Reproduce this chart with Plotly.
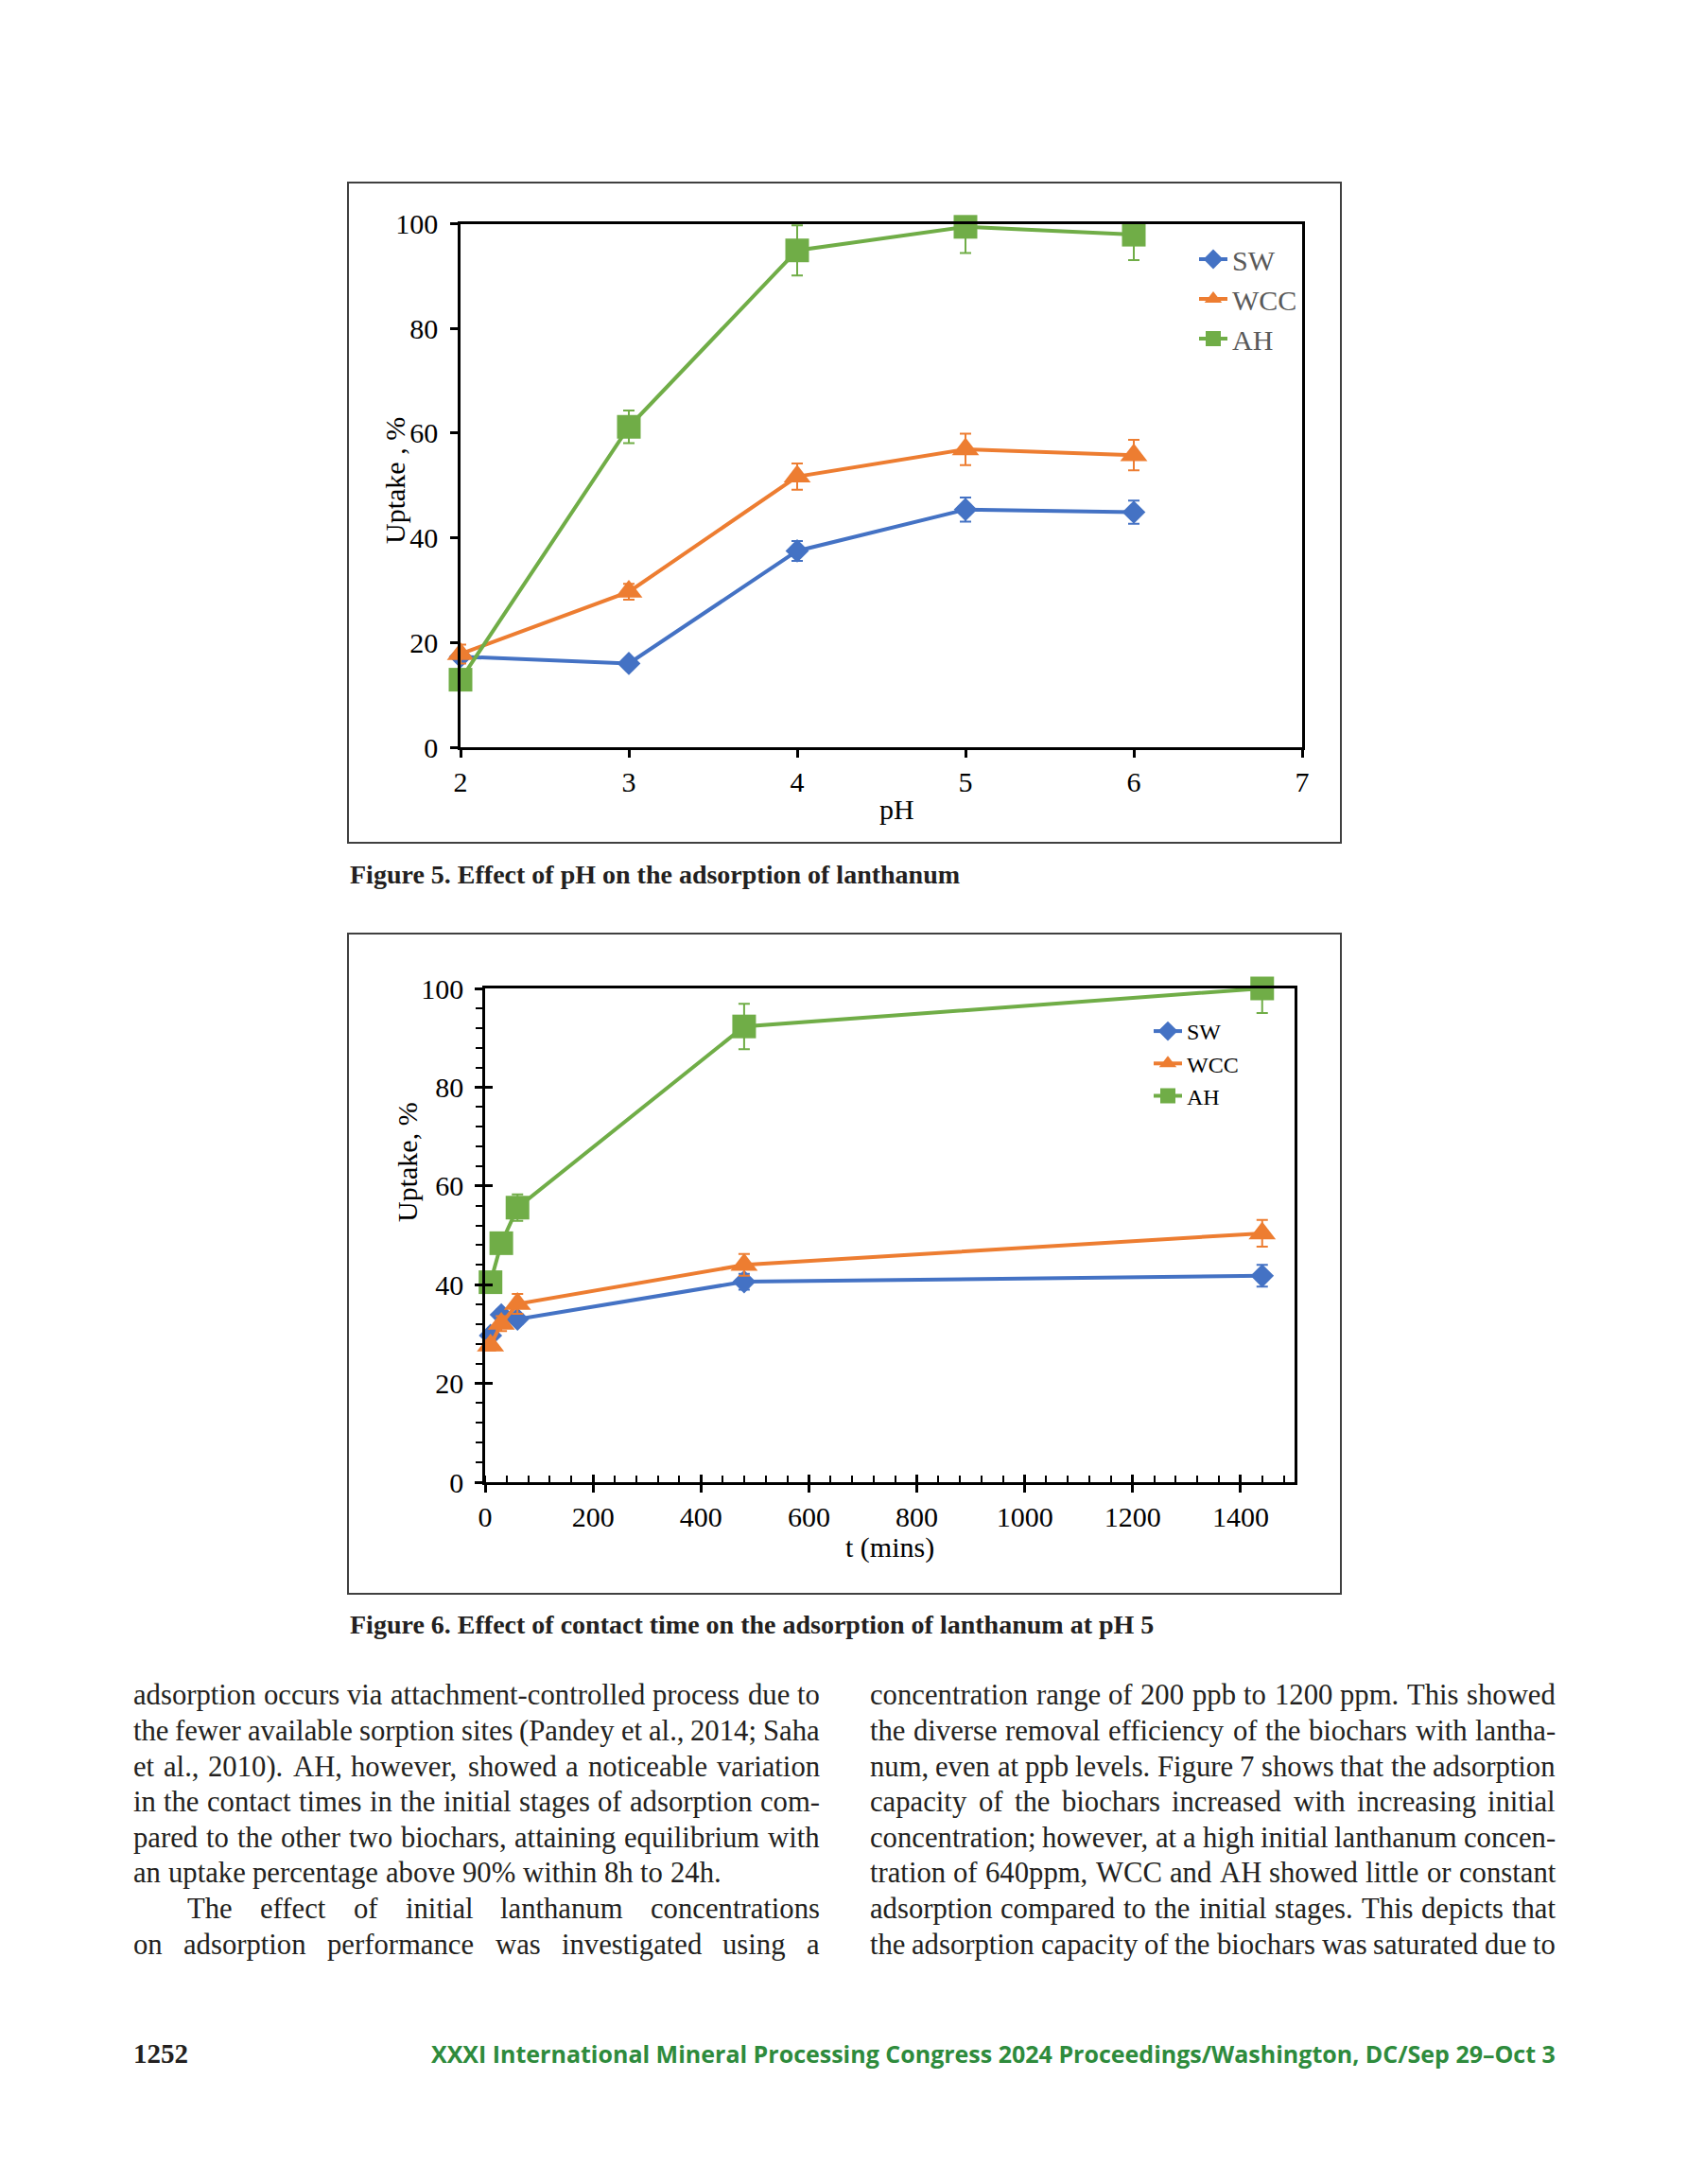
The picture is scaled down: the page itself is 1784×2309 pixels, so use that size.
import plotly.graph_objects as go

W, H = 1784, 2309

# ---------------- Data ----------------
# Figure 5: effect of pH
ph = [2, 3, 4, 5, 6]
ph_sw = [17.3, 16.0, 37.5, 45.4, 44.9]
ph_sw_err = [0.6, 0.6, 1.9, 2.3, 2.2]
ph_wcc = [17.8, 29.7, 51.7, 56.9, 55.8]
ph_wcc_err = [1.8, 1.5, 2.5, 3.0, 2.9]
ph_ah = [12.9, 61.2, 94.9, 99.4, 97.9]
ph_ah_err = [1.0, 3.1, 4.8, 5.0, 4.85]
ph_ticks = [2, 3, 4, 5, 6, 7]

# Figure 6: effect of contact time
t_min = [10, 30, 60, 480, 1440]
t_sw = [29.7, 33.9, 33.0, 40.6, 41.8]
t_sw_err = [1.0, 1.0, 1.0, 1.6, 2.2]
t_wcc = [27.7, 32.1, 36.1, 44.0, 50.4]
t_wcc_err = [1.0, 1.5, 2.0, 2.2, 2.7]
t_ah = [40.5, 48.4, 55.6, 92.3, 100.0]
t_ah_err = [1.5, 2.0, 2.7, 4.6, 5.0]
t_ticks = [0, 200, 400, 600, 800, 1000, 1200, 1400]

series_names = ["SW", "WCC", "AH"]
colors = ["#4472C4", "#ED7D31", "#70AD47"]
symbols = ["diamond", "triangle-up", "square"]
marker_sizes = [19, 25, 25]

caption5 = "Figure 5. Effect of pH on the adsorption of lanthanum"
caption6 = "Figure 6. Effect of contact time on the adsorption of lanthanum at pH 5"

left_lines = [
    "adsorption occurs via attachment-controlled process due to",
    "the fewer available sorption sites (Pandey et al., 2014; Saha",
    "et al., 2010). AH, however, showed a noticeable variation",
    "in the contact times in the initial stages of adsorption com-",
    "pared to the other two biochars, attaining equilibrium with",
    "an uptake percentage above 90% within 8h to 24h.",
    "The effect of initial lanthanum concentrations",
    "on adsorption performance was investigated using a",
]
left_justify = [True, True, True, True, True, False, True, True]
left_indent = [0, 0, 0, 0, 0, 0, 1, 0]
right_lines = [
    "concentration range of 200 ppb to 1200 ppm. This showed",
    "the diverse removal efficiency of the biochars with lantha-",
    "num, even at ppb levels. Figure 7 shows that the adsorption",
    "capacity of the biochars increased with increasing initial",
    "concentration; however, at a high initial lanthanum concen-",
    "tration of 640ppm, WCC and AH showed little or constant",
    "adsorption compared to the initial stages. This depicts that",
    "the adsorption capacity of the biochars was saturated due to",
]
page_number = "1252"
footer_text = "XXXI International Mineral Processing Congress 2024 Proceedings/Washington, DC/Sep 29–Oct 3"

SERIF = "Liberation Serif"


def px(x):
    return x / W


def py(y):
    return 1 - y / H


# ---------------- Traces ----------------
fig = go.Figure()
ph_vals = [(ph_sw, ph_sw_err), (ph_wcc, ph_wcc_err), (ph_ah, ph_ah_err)]
t_vals = [(t_sw, t_sw_err), (t_wcc, t_wcc_err), (t_ah, t_ah_err)]

for i, (yv, ev) in enumerate(ph_vals):
    fig.add_trace(go.Scatter(
        x=ph, y=yv, name=series_names[i], mode="lines+markers",
        line=dict(color=colors[i], width=4),
        marker=dict(symbol=symbols[i], size=marker_sizes[i], color=colors[i]),
        error_y=dict(type="data", array=ev, color=colors[i], thickness=2, width=6),
        cliponaxis=False, xaxis="x", yaxis="y", legend="legend",
    ))

for i, (yv, ev) in enumerate(t_vals):
    fig.add_trace(go.Scatter(
        x=t_min, y=yv, name=series_names[i], mode="lines+markers",
        line=dict(color=colors[i], width=4),
        marker=dict(symbol=symbols[i], size=marker_sizes[i], color=colors[i]),
        error_y=dict(type="data", array=ev, color=colors[i], thickness=2, width=6),
        cliponaxis=False, xaxis="x2", yaxis="y2", legend="legend2",
    ))

# invisible trace for the overlay axes (inside half of crossing ticks)
fig.add_trace(go.Scatter(x=[None], y=[None], xaxis="x3", yaxis="y3",
                         showlegend=False, hoverinfo="skip"))

tickfont = dict(family=SERIF, size=30, color="black")
axis_common = dict(showline=True, linecolor="black", linewidth=2.5, mirror=True,
                   ticks="outside", ticklen=8, tickwidth=2.5, tickcolor="black",
                   tickfont=tickfont, showgrid=False, zeroline=False, automargin=False)

# ---------------- Text annotations ----------------
TW = {' ': 250, 'a': 444, 'b': 500, 'c': 444, 'd': 500, 'e': 444, 'f': 333, 'g': 500,
      'h': 500, 'i': 278, 'j': 278, 'k': 500, 'l': 278, 'm': 778, 'n': 500, 'o': 500,
      'p': 500, 'q': 500, 'r': 333, 's': 389, 't': 278, 'u': 500, 'v': 500, 'w': 722,
      'x': 500, 'y': 500, 'z': 444, 'A': 722, 'B': 667, 'C': 667, 'D': 722, 'E': 611,
      'F': 556, 'G': 722, 'H': 722, 'I': 333, 'J': 389, 'K': 722, 'L': 611, 'M': 889,
      'N': 722, 'O': 722, 'P': 556, 'Q': 722, 'R': 667, 'S': 556, 'T': 611, 'U': 722,
      'V': 722, 'W': 944, 'X': 722, 'Y': 722, 'Z': 611, '.': 250, ',': 250, ';': 278,
      ':': 278, '(': 333, ')': 333, '-': 333, '%': 833}


def wem(s):
    return sum(TW.get(ch, 500) for ch in s) / 1000.0


annotations = []
BODY_COLOR = "#231f20"


def add_text(x, y, text, size, family=SERIF, color=BODY_COLOR, anchor="left", bold=False, angle=0):
    annotations.append(dict(
        x=px(x), y=py(y), xref="paper", yref="paper", text=("<b>%s</b>" % text) if bold else text,
        showarrow=False, xanchor=anchor, yanchor="middle", textangle=angle,
        font=dict(family=family, size=size, color=color), borderpad=0,
    ))


col_left = (140, 866)
col_right = (919, 1644)
indent_px = 57
line_y = [1792, 1830, 1868, 1905, 1943, 1980, 2018, 2056]

cands = []
for lines, just, ind, (x0, x1) in [(left_lines, left_justify, left_indent, col_left),
                                   (right_lines, [True] * 8, [0] * 8, col_right)]:
    for ln, j, idt in zip(lines, just, ind):
        words = ln.split(" ")
        natural = sum(wem(w) for w in words) + 0.22 * (len(words) - 1)
        cands.append((x1 - x0 - idt * indent_px) / natural)
BODY = min(31.0, min(cands))

for lines, just, ind, (x0, x1) in [(left_lines, left_justify, left_indent, col_left),
                                   (right_lines, [True] * 8, [0] * 8, col_right)]:
    for k, (ln, j, idt) in enumerate(zip(lines, just, ind)):
        words = ln.split(" ")
        start = x0 + idt * indent_px
        ww = [wem(w) * BODY for w in words]
        if j and len(words) > 1:
            gap = (x1 - start - sum(ww)) / (len(words) - 1)
        else:
            gap = 0.25 * BODY
        xc = start
        for w, wpx in zip(words, ww):
            add_text(xc, line_y[k], w, BODY)
            xc += wpx + gap

# captions
add_text(369, 924, caption5, 28, bold=True)
add_text(369, 1717, caption6, 28, bold=True)

# footer
add_text(140, 2171, page_number, 29, bold=True)
add_text(1646, 2171, footer_text, 25, family="Open Sans", color="#2e8b3c", anchor="right", bold=True)

# axis titles
add_text(948, 855, "pH", 30, color="black", anchor="center")
add_text(417, 508, "Uptake , %", 30, color="black", anchor="center", angle=-90)
add_text(941, 1636, "t (mins)", 30, color="black", anchor="center")
add_text(430, 1229, "Uptake, %", 30, color="black", anchor="center", angle=-90)

# ---------------- Shapes (figure frames) ----------------
shapes = [
    dict(type="rect", xref="paper", yref="paper", x0=px(368), x1=px(1418), y0=py(891), y1=py(193),
         line=dict(color="#404040", width=2)),
    dict(type="rect", xref="paper", yref="paper", x0=px(368), x1=px(1418), y0=py(1685), y1=py(987),
         line=dict(color="#404040", width=2)),
]

fig.update_layout(
    width=W, height=H, margin=dict(l=0, r=0, t=0, b=0, autoexpand=False),
    paper_bgcolor="white", plot_bgcolor="rgba(0,0,0,0)",
    showlegend=True,
    xaxis=dict(domain=[px(487), px(1377)], anchor="y", range=[2, 7], tickvals=ph_ticks, **axis_common),
    yaxis=dict(domain=[py(790), py(236.5)], anchor="x", range=[0, 100], dtick=20,
               ticklabelstandoff=7, **axis_common),
    xaxis2=dict(domain=[px(513), px(1369)], anchor="y2", range=[0, 1500], tickvals=t_ticks,
                minor=dict(dtick=40, tick0=0, ticks="inside", ticklen=7, tickwidth=2, tickcolor="black", showgrid=False),
                **axis_common),
    yaxis2=dict(domain=[py(1567), py(1045)], anchor="x2", range=[0, 100], dtick=20, ticklabelstandoff=6,
                minor=dict(dtick=4, tick0=0, ticks="outside", ticklen=7, tickwidth=2, tickcolor="black", showgrid=False),
                **axis_common),
    xaxis3=dict(domain=[px(513), px(1369)], anchor="y3", overlaying="x2", range=[0, 1500], tickvals=t_ticks,
                ticks="inside", ticklen=8, tickwidth=2.5, tickcolor="black", showticklabels=False,
                showline=False, showgrid=False, zeroline=False, automargin=False),
    yaxis3=dict(domain=[py(1567), py(1045)], anchor="x3", overlaying="y2", range=[0, 100], dtick=20,
                ticks="inside", ticklen=8, tickwidth=2.5, tickcolor="black", showticklabels=False,
                showline=False, showgrid=False, zeroline=False, automargin=False),
    legend=dict(x=px(1263), y=py(248), xanchor="left", yanchor="top", bgcolor="rgba(0,0,0,0)",
                font=dict(family=SERIF, size=30, color="#595959")),
    legend2=dict(x=px(1215), y=py(1068), xanchor="left", yanchor="top", bgcolor="rgba(0,0,0,0)",
                 font=dict(family=SERIF, size=24, color="black")),
    annotations=annotations,
    shapes=shapes,
)

fig.write_html("out.html", config={"displayModeBar": False},
               post_script="document.body.style.margin='0';document.body.style.overflow='hidden';")
